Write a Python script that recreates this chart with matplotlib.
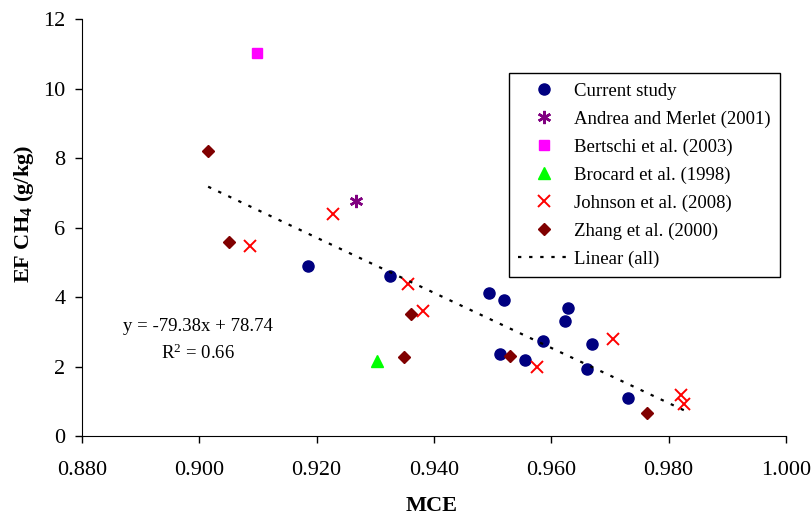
import numpy as np
import matplotlib
matplotlib.use("Agg")
import matplotlib.pyplot as plt

plt.rcParams['font.family'] = ['Liberation Serif', 'DejaVu Serif']
plt.rcParams['mathtext.fontset'] = 'custom'
plt.rcParams['mathtext.rm'] = 'Liberation Serif'
plt.rcParams['mathtext.it'] = 'Liberation Serif:italic'
plt.rcParams['mathtext.bf'] = 'Liberation Serif:bold'

# data (MCE, EF CH4 g/kg)
current_x = [0.9186, 0.9325, 0.9494, 0.9520, 0.9628, 0.9623, 0.9586, 0.9669,
             0.9513, 0.9555, 0.9661, 0.9730]
current_y = [4.89, 4.60, 4.11, 3.92, 3.68, 3.30, 2.73, 2.64, 2.35, 2.18, 1.93, 1.09]

andreae_x = [0.9267]
andreae_y = [6.77]

bertschi_x = [0.9098]
bertschi_y = [11.03]

brocard_x = [0.9302]
brocard_y = [2.15]

johnson_x = [0.9228, 0.9087, 0.9356, 0.9382, 0.9575, 0.9705, 0.9821, 0.9826]
johnson_y = [6.38, 5.47, 4.39, 3.59, 1.99, 2.79, 1.19, 0.91]

zhang_x = [0.9015, 0.9050, 0.9360, 0.9348, 0.9530, 0.9763]
zhang_y = [8.21, 5.60, 3.51, 2.28, 2.31, 0.65]

slope = -79.38
intercept = 78.74
r2 = 0.66

fig = plt.figure(figsize=(8.12, 5.17), dpi=100)
ax = fig.add_axes([0.101, 0.1567, 0.867, 0.806])

ms = 8
ax.plot(current_x, current_y, 'o', color='#000080', ms=ms, ls='none', label='Current study')
ax.plot(andreae_x, andreae_y, marker=(6, 2, 0), color='#800080', ms=9.5, mew=1.8,
        ls='none', label='Andrea and Merlet (2001)')
ax.plot(bertschi_x, bertschi_y, 's', color='#FF00FF', ms=7, ls='none', label='Bertschi et al. (2003)')
ax.plot(brocard_x, brocard_y, '^', color='#00FF00', ms=8, ls='none', label='Brocard et al. (1998)')
ax.plot(johnson_x, johnson_y, 'x', color='#FF0000', ms=8, mew=1.4, ls='none', label='Johnson et al. (2008)')
ax.plot(zhang_x, zhang_y, 'D', color='#800000', ms=6, ls='none', label='Zhang et al. (2000)')

# trend line over the range of all points
all_x = current_x + andreae_x + bertschi_x + brocard_x + johnson_x + zhang_x
xs = np.array([min(all_x), max(all_x)])
ax.plot(xs, slope * xs + intercept, color='black', lw=1.6, ls=(0, (1.5, 3.5)), label='Linear (all)')

ax.text(0.8998, 3.16, 'y = %.2fx + %.2f' % (slope, intercept), ha='center', va='center', fontsize=13.5)
ax.text(0.8998, 2.39, 'R$^2$ = %.2f' % r2, ha='center', va='center', fontsize=13.5)

ax.set_xlim(0.88, 1.0)
ax.set_ylim(0, 12)
ticks = np.arange(0.88, 1.0001, 0.02)
ax.set_xticks(ticks)
ax.set_xticklabels(['%.3f' % v for v in ticks])
ax.set_yticks(range(0, 13, 2))
ax.tick_params(direction='out', length=5, width=1, labelsize=16)
ax.tick_params(axis='x', pad=13)
ax.tick_params(axis='y', pad=7)
ax.spines['top'].set_visible(False)
ax.spines['right'].set_visible(False)

ax.set_xlabel('MCE', fontsize=16, fontweight='bold')
ax.xaxis.set_label_coords(0.497, -0.145)
ax.set_ylabel(r'EF CH$_\mathbf{4}$ (g/kg)', fontsize=16, fontweight='bold')
ax.yaxis.set_label_coords(-0.066, 0.532)

legend = ax.legend(loc='upper left', bbox_to_anchor=(0.6065, 0.8705), fontsize=13.5,
                   fancybox=False, edgecolor='black', framealpha=1, handlelength=2.75,
                   handletextpad=0.2, borderpad=0.5, labelspacing=0.57, borderaxespad=0)
legend.get_frame().set_linewidth(1)

plt.savefig('out.png', dpi=100)
